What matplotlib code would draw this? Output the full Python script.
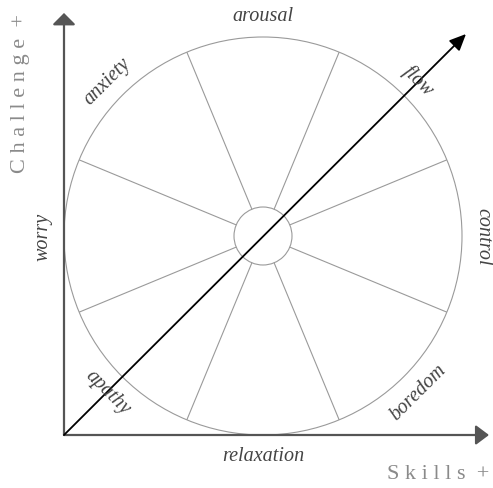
import numpy as np
import matplotlib
matplotlib.use("Agg")
import matplotlib.pyplot as plt
from matplotlib.patches import Circle

plt.rcParams['font.family'] = ['Liberation Serif', 'DejaVu Serif']

# DATA
states = ['arousal', 'flow', 'control', 'boredom',
          'relaxation', 'apathy', 'worry', 'anxiety']
state_angles = [90, 45, 0, -45, -90, -135, 180, 135]   # degrees, around the centre
spoke_angles = [22.5, 67.5, 112.5, 157.5, 202.5, 247.5, 292.5, 337.5]
x_label = 'Skills'
y_label = 'Challenge'

# geometry (1 data unit = 1 px)
x_len, y_len = 425, 422
cx, cy = 199, 199
r_out, r_in = 199, 29
r_text = 220
flow_tip = (402, 401)

AXIS_C = '#555555'
RING_C = '#9a9a9a'
TEXT_C = '#444444'
LABEL_C = '#8a8a8a'


# letter-spaced axis title
def spaced(s):
    return ' '.join(s) + '  +'


fig = plt.figure(figsize=(4.93, 4.89), dpi=100)
ax = fig.add_axes([0, 0, 1, 1])
ax.set_xlim(-64, 429)
ax.set_ylim(-53, 436)
ax.axis('off')

# circles
ax.add_patch(Circle((cx, cy), r_out, fill=False, ec=RING_C, lw=0.8))
ax.add_patch(Circle((cx, cy), r_in, fill=False, ec=RING_C, lw=0.8))

# spokes
for a in spoke_angles:
    t = np.radians(a)
    ax.plot([cx + r_in * np.cos(t), cx + r_out * np.cos(t)],
            [cy + r_in * np.sin(t), cy + r_out * np.sin(t)],
            color=RING_C, lw=0.8, solid_capstyle='butt')

# axes with arrow heads
ax.annotate('', xy=(x_len, 0), xytext=(0, 0),
            arrowprops=dict(arrowstyle='-|>,head_length=0.8,head_width=0.6',
                            color=AXIS_C, lw=1.6, shrinkA=0, shrinkB=0,
                            mutation_scale=10))
ax.annotate('', xy=(0, y_len), xytext=(0, 0),
            arrowprops=dict(arrowstyle='-|>,head_length=0.7,head_width=0.7',
                            color=AXIS_C, lw=1.6, shrinkA=0, shrinkB=0,
                            mutation_scale=10))

# flow channel diagonal
ax.annotate('', xy=flow_tip, xytext=(0, 0),
            arrowprops=dict(arrowstyle='-|>,head_length=1.0,head_width=0.45',
                            color='black', lw=1.3, shrinkA=0, shrinkB=0,
                            mutation_scale=10))

# state labels, written along the ring
for name, a in zip(states, state_angles):
    t = np.radians(a)
    if a == 180:
        rot = 90
    elif 0 < a < 180:
        rot = a - 90
    elif a == 0:
        rot = -90
    else:
        rot = a + 90
    ax.text(cx + r_text * np.cos(t), cy + r_text * np.sin(t), name,
            rotation=rot, rotation_mode='anchor', ha='center', va='center',
            fontsize=14.5, style='italic', color=TEXT_C)

# axis titles
ax.text(-43, 342, spaced(y_label), rotation=90, ha='center', va='center',
        fontsize=16, color=LABEL_C)
ax.text(374, -39, spaced(x_label), ha='center', va='center',
        fontsize=16, color=LABEL_C)

fig.savefig('out.png', dpi=100)
